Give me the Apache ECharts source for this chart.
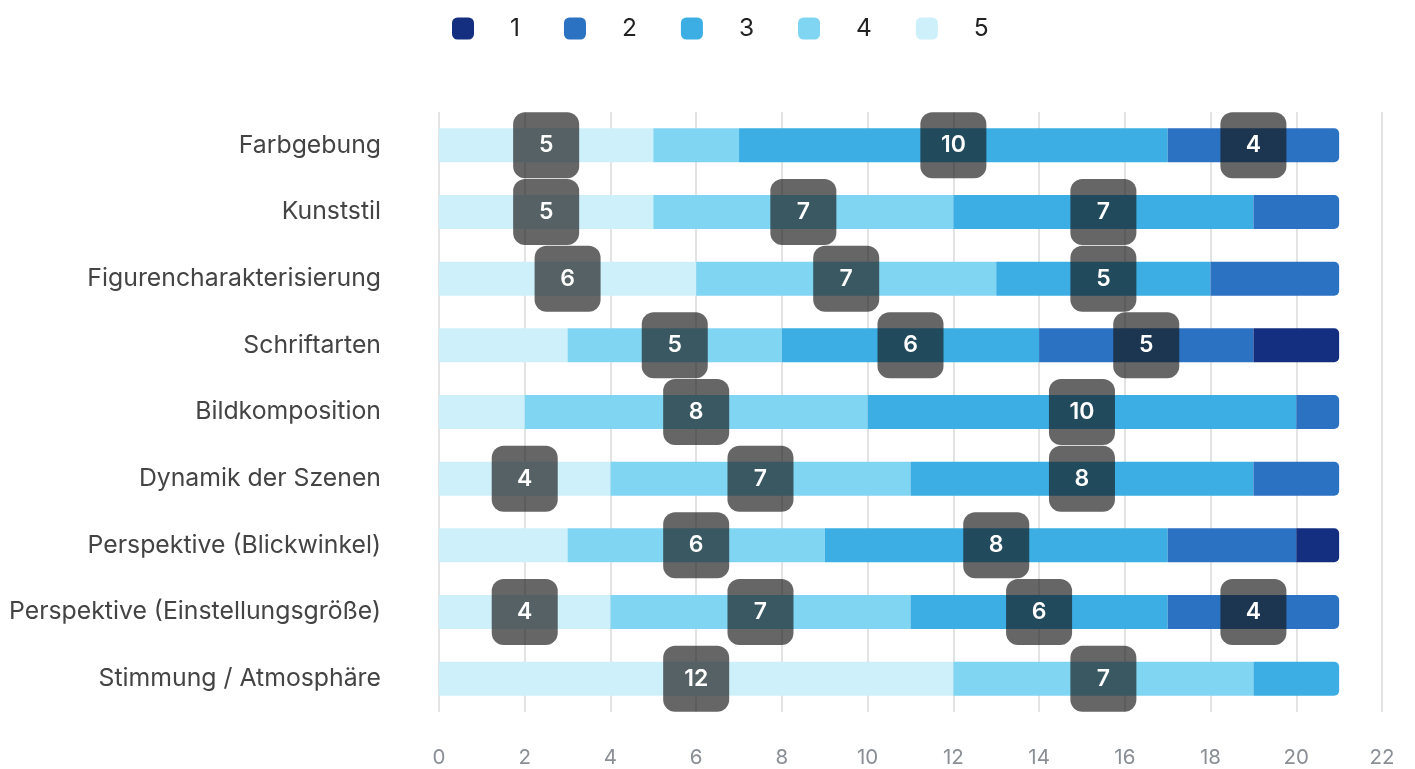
<!DOCTYPE html>
<html>
<head>
<meta charset="utf-8">
<script src="https://cdn.jsdelivr.net/npm/echarts@6/dist/echarts.min.js"></script>
<style>
  html, body { margin: 0; padding: 0; background: #fff; }
  #chart { width: 1415px; height: 769px; }
</style>
</head>
<body>
<div id="chart"></div>
<script>
// categories (top to bottom)
var categories = [
  'Farbgebung',
  'Kunststil',
  'Figurencharakterisierung',
  'Schriftarten',
  'Bildkomposition',
  'Dynamik der Szenen',
  'Perspektive (Blickwinkel)',
  'Perspektive (Einstellungsgröße)',
  'Stimmung / Atmosphäre'
];

// counts per rating
var rating5 = [5, 5, 6, 3, 2, 4, 3, 4, 12];
var rating4 = [2, 7, 7, 5, 8, 7, 6, 7, 7];
var rating3 = [10, 7, 5, 6, 10, 8, 8, 6, 2];
var rating2 = [4, 2, 3, 5, 1, 2, 3, 4, 0];
var rating1 = [0, 0, 0, 2, 0, 0, 1, 0, 0];

var xTicks = [0, 22, 2]; // min, max, interval

var colors = {
  '1': '#142f80',
  '2': '#2c72c3',
  '3': '#3caee4',
  '4': '#80d6f2',
  '5': '#cdf0fa'
};

// stacked left to right: 5, 4, 3, 2, 1
var stackOrder = [
  { name: '5', values: rating5 },
  { name: '4', values: rating4 },
  { name: '3', values: rating3 },
  { name: '2', values: rating2 },
  { name: '1', values: rating1 }
];

// which series is last (rightmost) per category, to round its end
var lastIdx = categories.map(function (c, i) {
  var last = 0;
  stackOrder.forEach(function (s, k) { if (s.values[i] > 0) last = k; });
  return last;
});

var series = stackOrder.map(function (s, k) {
  return {
    name: s.name,
    type: 'bar',
    stack: 'total',
    barWidth: 34,
    itemStyle: { color: colors[s.name] },
    label: {
      show: true,
      position: 'inside',
      color: '#fff',
      fontSize: 23,
      fontWeight: 600,
      fontFamily: 'Inter',
      backgroundColor: 'rgba(20,20,20,0.65)',
      borderRadius: 12,
      width: 66,
      height: 66,
      lineHeight: 66,
      align: 'center',
      verticalAlign: 'middle'
    },
    z: 2,
    data: s.values.map(function (v, i) {
      return {
        value: v,
        label: { show: v >= 4 },
        itemStyle: { borderRadius: lastIdx[i] === k ? [0, 5, 5, 0] : 0 }
      };
    })
  };
});

var myChart = echarts.init(document.getElementById('chart'));
var option = {
  animation: false,
  textStyle: { fontFamily: 'Inter' },
  legend: {
    top: 11,
    left: 447,
    data: ['1', '2', '3', '4', '5'],
    icon: 'roundRect',
    itemWidth: 22,
    itemHeight: 22,
    itemGap: 44,
    textStyle: {
      fontSize: 24.5,
      color: '#222',
      padding: [0, 0, 0, 31]
    }
  },
  grid: {
    left: 439,
    right: 33,
    top: 112,
    bottom: 57,
    containLabel: false
  },
  xAxis: {
    type: 'value',
    min: xTicks[0],
    max: xTicks[1],
    interval: xTicks[2],
    axisLine: { show: false },
    axisTick: { show: false },
    axisLabel: { color: '#8a8f95', fontSize: 20.5, margin: 35 },
    splitLine: { lineStyle: { color: '#e3e3e3', width: 2 } }
  },
  yAxis: {
    type: 'category',
    inverse: true,
    data: categories,
    axisLine: { show: false },
    axisTick: { show: false },
    axisLabel: { color: '#444', fontSize: 24.8, margin: 58 }
  },
  series: series
};
myChart.setOption(option);
</script>
</body>
</html>
